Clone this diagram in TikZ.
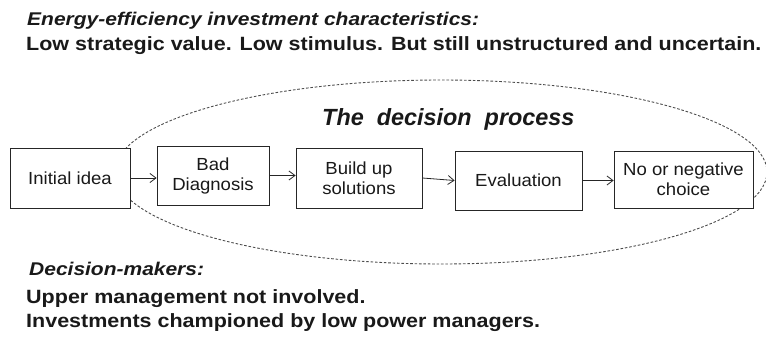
\documentclass[tikz,border=0pt]{standalone}
\usepackage{fontspec}
\setmainfont{Liberation Sans}
\newfontfamily\headfont[FakeStretch=1.14]{Liberation Sans}
\newfontfamily\bodyfont[FakeStretch=1.12]{Liberation Sans}
\newfontfamily\boxfont[FakeStretch=1.06]{Liberation Sans}
\usetikzlibrary{arrows.meta}
\begin{document}
\begin{tikzpicture}[x=1pt,y=-1pt,
  box/.style={draw=black!85, line width=0.8pt, fill=white, align=center, inner sep=2pt,
    font=\boxfont\fontsize{17.5}{20}\selectfont, text=black!90},
  arr/.style={draw=black!85, line width=0.8pt, -{Straight Barb[length=6pt,width=9pt]}},
  ell/.style={draw=black!70, line width=0.9pt, dash pattern=on 2.6pt off 1.8pt},
  head/.style={anchor=base west, inner sep=0pt, text=black!90, font=\headfont\fontsize{18.4}{20}\selectfont\bfseries\itshape},
  body/.style={anchor=base west, inner sep=0pt, text=black!90, font=\bodyfont\fontsize{19.2}{21}\selectfont\bfseries}]
\useasboundingbox (0,0) rectangle (766,337);
% dashed ellipse
\draw[ell] (441,172) ellipse [x radius=326, y radius=92];
% title inside ellipse
\node[anchor=base west, inner sep=0pt, text=black!90, font=\fontsize{23.4}{26}\selectfont\bfseries\itshape] (title) at (322,125) {The\ \ decision\ \ process};
% boxes
\node[box, minimum width=120pt, minimum height=60pt] (A) at (70,178) {Initial idea};
\node[box, minimum width=112pt, minimum height=59pt] (B) at (213,175.5) {Bad\\Diagnosis};
\node[box, minimum width=126pt, minimum height=60pt] (C) at (359,178) {Build up\\solutions};
\node[box, minimum width=127pt, minimum height=59pt] (D) at (518.5,180.5) {Evaluation};
\node[box, minimum width=139pt, minimum height=57pt] (E) at (683.5,179.5) {No or negative\\choice};
% arrows
\draw[arr] (A.east) -- (A.east -| B.west);
\draw[arr] (B.east) -- (B.east -| C.west);
\draw[arr] (C.east) -- (D.west);
\draw[arr] (D.east) -- (D.east -| E.west);
% texts
\node[head] (t1) at (27,25.7) {Energy-efficiency investment characteristics:};
\node[body] (t2) at (26,51) {Low strategic value. Low stimulus. But still unstructured and uncertain.};
\node[head] (t3) at (29,275) {Decision-makers:};
\node[body] (t4) at (26,303) {Upper management not involved.};
\node[body] (t5) at (26,327) {Investments championed by low power managers.};
\end{tikzpicture}
\end{document}
